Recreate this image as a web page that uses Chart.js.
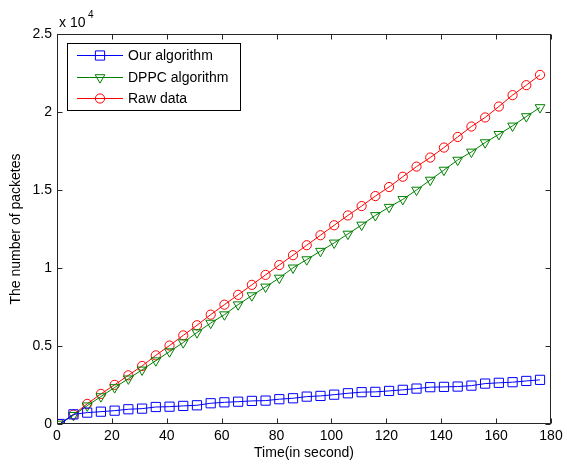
<!DOCTYPE html>
<html><head><meta charset="utf-8">
<script src="https://cdn.jsdelivr.net/npm/chart.js@4/dist/chart.umd.min.js"></script>
<style>html,body{margin:0;padding:0;background:#fff}#wrap{width:567px;height:466px}</style>
</head><body><div id="wrap"><canvas id="c" width="567" height="466"></canvas></div>
<script>
const times = [1,6,11,16,21,26,31,36,41,46,51,56,61,66,71,76,81,86,91,96,101,106,111,116,121,126,131,136,141,146,151,156,161,166,171,176];
const ourAlgorithm = [0,620,730,790,855,945,985,1090,1110,1160,1200,1330,1390,1430,1480,1500,1590,1650,1755,1800,1880,1970,2040,2060,2120,2190,2270,2360,2380,2400,2460,2590,2640,2680,2760,2830];
const dppcAlgorithm = [0,560,1170,1760,2340,2900,3470,4060,4640,5220,5860,6470,7010,7650,8230,8790,9360,10010,10540,11080,11610,12180,12760,13370,13900,14400,15000,15640,16280,16920,17440,18040,18570,19110,19710,20290];
const rawData = [0,600,1290,1930,2510,3120,3720,4400,5030,5680,6330,7010,7650,8280,8920,9560,10190,10820,11460,12100,12740,13370,13970,14610,15190,15850,16500,17080,17720,18400,19070,19650,20350,21080,21720,22380];
const xTicks = [0,20,40,60,80,100,120,140,160,180];
const yTicks = [0,5000,10000,15000,20000,25000];
const yTickLabels = ['0','0.5','1','1.5','2','2.5'];
const seriesNames = ['Our algorithm','DPPC algorithm','Raw data'];

const FONT = 'Liberation Sans, Arial, Helvetica, sans-serif';
const pts = arr => times.map((t,i)=>({x:t,y:arr[i]}));

const styles = [
  {color:'#0000ff', pointStyle:'rect', radius:6.5, rotation:0},
  {color:'#008000', pointStyle:'triangle', radius:5.6, rotation:180},
  {color:'#ff0000', pointStyle:'circle', radius:4.6, rotation:0}
];
const seriesData = [ourAlgorithm, dppcAlgorithm, rawData];

const datasets = seriesData.map((d,i)=>({
  label: seriesNames[i],
  data: pts(d),
  borderColor: styles[i].color,
  backgroundColor: 'rgba(0,0,0,0)',
  borderWidth: 1,
  pointStyle: styles[i].pointStyle,
  pointRadius: styles[i].radius,
  pointRotation: styles[i].rotation,
  pointBorderWidth: 1,
  pointBorderColor: styles[i].color,
  pointBackgroundColor: 'rgba(0,0,0,0)',
  tension: 0
}));

const boxPlugin = {
  id: 'matlabBox',
  afterDraw(chart) {
    const ctx = chart.ctx;
    const a = chart.chartArea;
    const xs = chart.scales.x, ys = chart.scales.y;
    ctx.save();
    ctx.strokeStyle = '#262626';
    ctx.lineWidth = 1;
    const L = Math.round(a.left)+0.5, R = Math.round(a.right)-0.5, T = Math.round(a.top)+0.5, B = Math.round(a.bottom)-0.5;
    ctx.strokeRect(L, T, R-L, B-T);
    const tl = 5;
    ctx.beginPath();
    xTicks.forEach(v=>{
      const px = Math.round(xs.getPixelForValue(v))+0.5;
      ctx.moveTo(px,B); ctx.lineTo(px,B-tl);
      ctx.moveTo(px,T); ctx.lineTo(px,T+tl);
    });
    yTicks.forEach(v=>{
      const py = Math.round(ys.getPixelForValue(v))+0.5;
      ctx.moveTo(L,py); ctx.lineTo(L+tl,py);
      ctx.moveTo(R,py); ctx.lineTo(R-tl,py);
    });
    ctx.stroke();
    // exponent label
    ctx.fillStyle = '#000';
    ctx.textBaseline = 'alphabetic';
    ctx.textAlign = 'left';
    ctx.font = '14px ' + FONT;
    ctx.fillText('x 10', 59, 27);
    ctx.font = '10px ' + FONT;
    ctx.fillText('4', 88, 18);
    // legend
    const lx = 67.5, ly = 43.5, lw = 173, lh = 67;
    ctx.fillStyle = '#fff';
    ctx.fillRect(lx, ly, lw, lh);
    ctx.strokeStyle = '#000';
    ctx.strokeRect(lx, ly, lw, lh);
    const rows = [55, 77, 98];
    rows.forEach((ry,i)=>{
      const st = styles[i];
      ctx.strokeStyle = st.color;
      ctx.lineWidth = 1;
      ctx.beginPath();
      ctx.moveTo(77, ry+0.5); ctx.lineTo(123, ry+0.5);
      ctx.stroke();
      ctx.fillStyle = 'rgba(0,0,0,0)';
      ctx.strokeStyle = st.color;
      Chart.helpers.drawPoint(ctx, {pointStyle: st.pointStyle, radius: st.radius, rotation: st.rotation, borderWidth: 1}, 100, ry+0.5);
      ctx.fillStyle = '#000';
      ctx.font = '14px ' + FONT;
      ctx.textBaseline = 'middle';
      ctx.fillText(seriesNames[i], 128, ry+1);
    });
    ctx.restore();
  }
};

new Chart(document.getElementById('c'), {
  type: 'line',
  data: { datasets },
  options: {
    responsive: false,
    animation: false,
    devicePixelRatio: 1,
    layout: { padding: { top: 34, right: 16, left: 0, bottom: 0 } },
    plugins: { legend: { display: false }, tooltip: { enabled: false } },
    scales: {
      x: {
        type: 'linear', min: 0, max: 180,
        afterFit: s => { s.height = 42; },
        afterBuildTicks: s => { s.ticks = xTicks.map(v=>({value:v})); },
        grid: { display: false, drawTicks: false },
        border: { display: false },
        ticks: { color: '#000', font: { family: FONT, size: 14 }, padding: 4, maxRotation: 0, autoSkip: false },
        title: { display: true, text: 'Time(in second)', color: '#000', font: { family: FONT, size: 14 }, padding: { top: 0, bottom: 4 } }
      },
      y: {
        type: 'linear', min: 0, max: 25000,
        afterFit: s => { s.width = 57; },
        afterBuildTicks: s => { s.ticks = yTicks.map(v=>({value:v})); },
        grid: { display: false, drawTicks: false },
        border: { display: false },
        ticks: { color: '#000', font: { family: FONT, size: 14 }, padding: 5, autoSkip: false,
          callback: (v) => { const i = yTicks.indexOf(v); return i >= 0 ? yTickLabels[i] : ''; } },
        title: { display: true, text: 'The number of packetes', color: '#000', font: { family: FONT, size: 14 }, padding: { top: 8, bottom: 0 } }
      }
    }
  },
  plugins: [boxPlugin]
});
</script>
</body></html>
